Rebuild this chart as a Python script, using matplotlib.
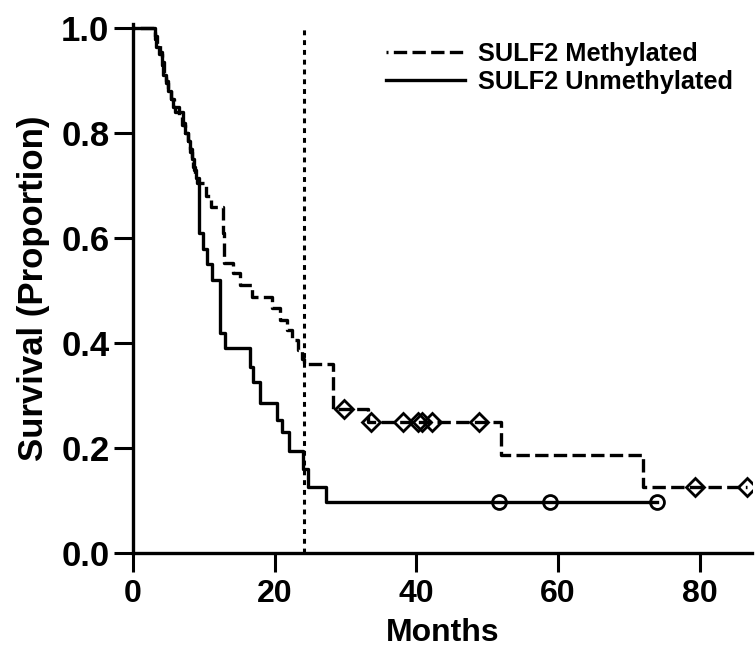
import matplotlib.pyplot as plt
import numpy as np

plt.rcParams['font.family'] = ['Liberation Sans', 'DejaVu Sans']
plt.rcParams['font.weight'] = 'bold'

# Kaplan-Meier steps (months, survival proportion)
meth_t = [0, 3.1, 3.4, 3.8, 4.1, 4.4, 4.7, 5.0, 5.4, 5.8, 6.5, 6.9, 7.3, 7.7, 8.0,
          8.3, 8.5, 8.8, 9.0, 10.3, 11.0, 12.7, 12.9, 14.1, 15.1, 16.8, 19.6, 20.7,
          21.7, 22.4, 23.3, 23.8, 24.2, 28.3, 33.2, 52.0, 72.0, 86.7]
meth_s = [1.0, 0.985, 0.97, 0.955, 0.935, 0.915, 0.9, 0.885, 0.865, 0.85, 0.835, 0.815,
          0.80, 0.785, 0.77, 0.75, 0.735, 0.72, 0.705, 0.68, 0.66, 0.61, 0.553, 0.533,
          0.51, 0.487, 0.467, 0.444, 0.425, 0.405, 0.387, 0.37, 0.36, 0.275, 0.25,
          0.1875, 0.125, 0.125]
meth_cens = [29.8, 33.6, 38.1, 40.3, 40.8, 42.2, 48.9, 79.4, 86.7]

unmeth_t = [0, 3.1, 3.3, 3.7, 4.1, 4.3, 4.7, 5.0, 5.3, 5.6, 6.0, 7.0, 7.4, 7.8, 8.1,
            8.4, 8.6, 8.9, 9.3, 9.9, 10.4, 11.1, 12.3, 13.0, 16.5, 16.9, 17.9, 20.3,
            21.1, 22.0, 24.0, 24.7, 27.2, 74.0]
unmeth_s = [1.0, 0.98, 0.965, 0.95, 0.93, 0.91, 0.895, 0.88, 0.865, 0.85, 0.84, 0.82,
            0.80, 0.785, 0.765, 0.75, 0.73, 0.715, 0.61, 0.58, 0.55, 0.52, 0.42, 0.39,
            0.355, 0.325, 0.285, 0.253, 0.23, 0.195, 0.16, 0.126, 0.097, 0.097]
unmeth_cens = [51.7, 58.9, 74.0]

cutoff = 24.2
labels = ['SULF2 Methylated', 'SULF2 Unmethylated']


def surv_at(t, times, surv):
    idx = np.searchsorted(times, t, side='right') - 1
    return np.asarray(surv)[idx]


fig = plt.figure(figsize=(7.56, 6.52), dpi=100)
ax = fig.add_axes([133 / 756, 99 / 652, 619 / 756, 529 / 652])

dash = (3.4, (4, 1.6))
ax.step(meth_t, meth_s, where='post', color='black', lw=2.4, linestyle=dash,
        label=labels[0])
ax.step(unmeth_t, unmeth_s, where='post', color='black', lw=2.4, label=labels[1])

ax.plot(meth_cens, surv_at(meth_cens, meth_t, meth_s), linestyle='none', marker='D',
        ms=9, mfc='none', mec='black', mew=2)
ax.plot(unmeth_cens, surv_at(unmeth_cens, unmeth_t, unmeth_s), linestyle='none',
        marker='o', ms=10, mfc='none', mec='black', mew=2)

ax.vlines(cutoff, 0, 1.0, colors='black', lw=2.2, linestyles=(0, (1.6, 1.6)))

ax.set_xlim(0, 87.4)
ax.set_ylim(0, 1.008)
ax.set_xticks([0, 20, 40, 60, 80])
ax.set_yticks([0.0, 0.2, 0.4, 0.6, 0.8, 1.0])
ax.set_yticklabels([f'{v:.1f}' for v in ax.get_yticks()])

for side in ['top', 'right']:
    ax.spines[side].set_visible(False)
for side in ['left', 'bottom']:
    ax.spines[side].set_linewidth(2.4)
ax.tick_params(width=2.2, length=14)
ax.tick_params(axis='y', labelsize=25, pad=3)
ax.tick_params(axis='x', labelsize=23, pad=5)

ax.set_xlabel('Months', fontsize=23, fontweight='bold', labelpad=6)
ax.set_ylabel('Survival (Proportion)', fontsize=25, fontweight='bold', labelpad=8)

ax.legend(loc='upper right', bbox_to_anchor=(0.985, 0.985), frameon=False,
          prop={'size': 18.3, 'weight': 'bold'}, handlelength=3.1, handletextpad=0.5,
          labelspacing=0.15, borderaxespad=0)

fig.savefig('out.png', dpi=100)
